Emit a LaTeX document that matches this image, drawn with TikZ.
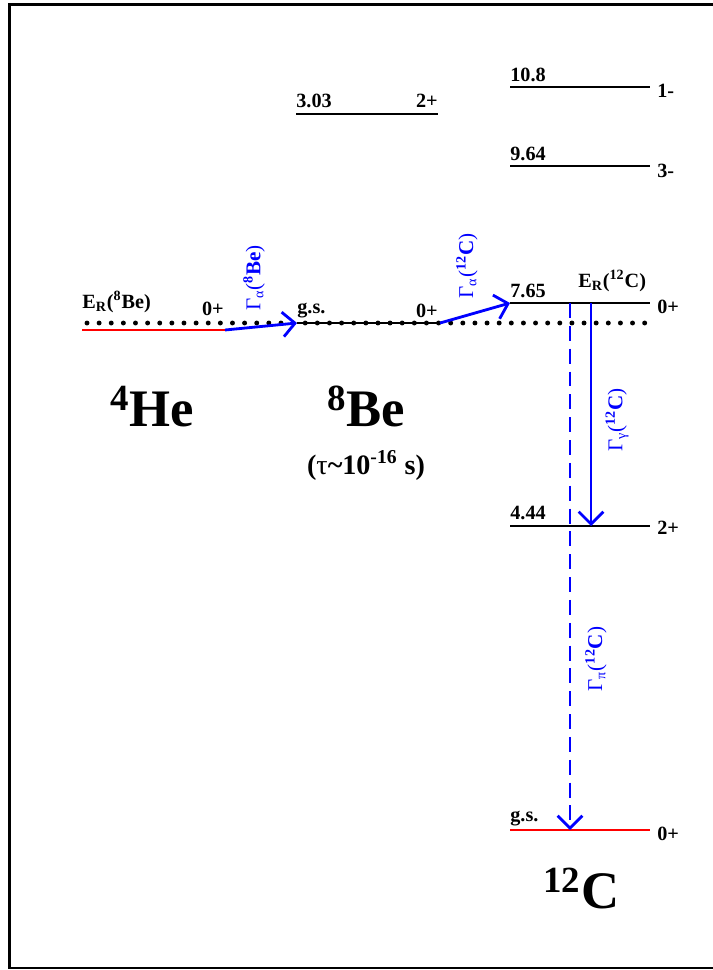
\documentclass[tikz,border=0pt]{standalone}
\usepackage{fontspec}
\setmainfont{Liberation Serif}
\usetikzlibrary{arrows.meta}
\tikzset{
    level/.style={line width=1.6pt},
    gslevel/.style={line width=1.6pt, red},
    lab/.style={font=\fontsize{11.5}{13}\selectfont\bfseries, inner sep=0pt},
    width/.style={blue, font=\fontsize{12}{14}\selectfont, rotate=90, inner sep=0pt},
    decay/.style={blue, line width=1.6pt, -{Straight Barb[length=7pt,width=14pt,line width=1.6pt]}},
    nucleus/.style={font=\fontsize{30}{32}\selectfont\bfseries, inner sep=0pt, anchor=base west},
}
\begin{document}
\begin{tikzpicture}[x=0.02cm, y=-0.02cm]
    \useasboundingbox (0,0) rectangle (713,970);
    \clip (0,0) rectangle (713,970);
    \draw[line width=1.2pt] (9.5,4.5) rectangle (740,968);
    % levels
    \coordinate (he-l) at (82,330);   \coordinate (he-r) at (225,330);
    \coordinate (be-l) at (297,323);  \coordinate (be-r) at (440,323);
    \coordinate (be2-l) at (296,114); \coordinate (be2-r) at (438,114);
    \coordinate (c5-l) at (510,87);   \coordinate (c5-r) at (650,87);
    \coordinate (c4-l) at (510,166);  \coordinate (c4-r) at (650,166);
    \coordinate (c3-l) at (510,303);  \coordinate (c3-r) at (650,303);
    \coordinate (c2-l) at (510,526);  \coordinate (c2-r) at (650,526);
    \coordinate (c1-l) at (510,830);  \coordinate (c1-r) at (650,830);
    \draw[line width=2.8pt, line cap=round, dash pattern=on 0pt off 6.9pt] (87,323) -- (655,323);
    \draw[gslevel] (he-l) -- (he-r);
    \draw[level] (be-l) -- (be-r);
    \draw[level] (be2-l) -- (be2-r);
    \foreach \n in {2,3,4,5}
        \draw[level] (c\n-l) -- (c\n-r);
    \draw[gslevel] (c1-l) -- (c1-r);
    % labels
    \node[lab, anchor=base west] (erbe) at (82,308) {E\textsubscript{R}(\textsuperscript{8}Be)};
    \node[lab, anchor=base east] (jhe) at (224,315) {0+};
    \node[lab, anchor=base west] (gsbe) at (297,313) {g.s.};
    \node[lab, anchor=base east] (jbe) at (438,317) {0+};
    \node[lab, anchor=base west] (ebe2) at (296,107) {3.03};
    \node[lab, anchor=base east] (jbe2) at (438,107) {2+};
    \node[lab, anchor=base west] (e5) at (510,81) {10.8};
    \node[lab, anchor=base west] (e4) at (510,160) {9.64};
    \node[lab, anchor=base west] (e3) at (510,297) {7.65};
    \node[lab, anchor=base west] (e2) at (510,519) {4.44};
    \node[lab, anchor=base west] (e1) at (510,821) {g.s.};
    \node[lab, anchor=base west] (erc) at (578,287) {E\textsubscript{R}(\textsuperscript{12}C)};
    \node[lab, anchor=west] (j5) at (657,91) {1-};
    \node[lab, anchor=west] (j4) at (657,171) {3-};
    \node[lab, anchor=west] (j3) at (657,307) {0+};
    \node[lab, anchor=west] (j2) at (657,528) {2+};
    \node[lab, anchor=west] (j1) at (657,834) {0+};
    % nuclei
    \node[nucleus] (he) at (110,426) {\textsuperscript{4}He};
    \node[nucleus] (be) at (327,426) {\textsuperscript{8}Be};
    \node[font=\fontsize{16}{18}\selectfont\bfseries, inner sep=0pt] (tau) at (366,465) {({\mdseries τ}\textasciitilde10\textsuperscript{-16} s)};
    \node[nucleus] (c) at (543,908) {\textsuperscript{12}C};
    % decays
    \draw[decay] (he-r) -- (be-l);
    \draw[decay] (be-r) -- (c3-l);
    \coordinate (g-top) at (591,303); \coordinate (g-bot) at (591,526);
    \coordinate (p-top) at (570,303); \coordinate (p-bot) at (570,830);
    \draw[decay] (g-top) -- (g-bot);
    \draw[decay, dash pattern=on 8.5pt off 4.5pt] (p-top) -- (p-bot);
    \node[width] (wbe) at (254,278) {Γ\textsubscript{α}(\textbf{\textsuperscript{8}Be})};
    \node[width] (wca) at (467,266) {Γ\textsubscript{α}(\textbf{\textsuperscript{12}C})};
    \node[width] (wcg) at (617,420) {Γ\textsubscript{γ}(\textbf{\textsuperscript{12}C})};
    \node[width] (wcp) at (596,659) {Γ\textsubscript{π}(\textbf{\textsuperscript{12}C})};
\end{tikzpicture}
\end{document}
